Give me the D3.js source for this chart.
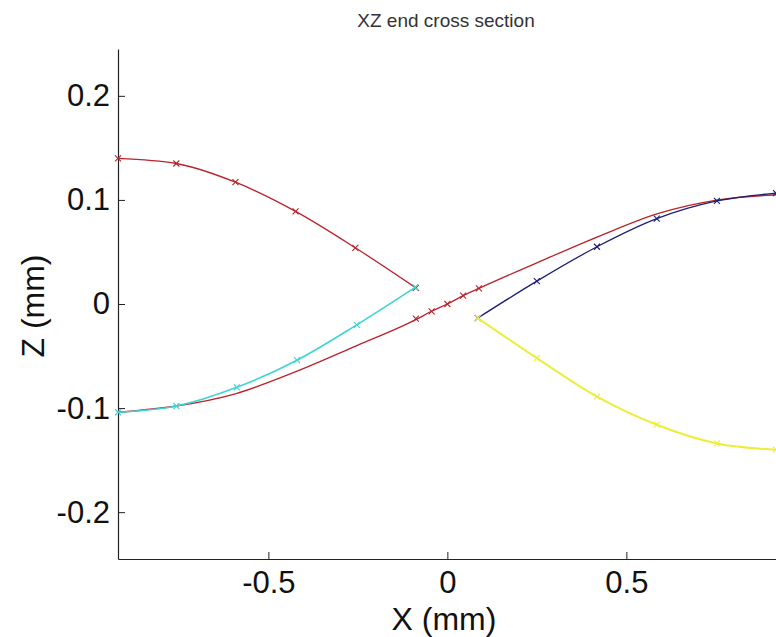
<!DOCTYPE html>
<html>
<head>
<meta charset="utf-8">
<script src="https://cdn.jsdelivr.net/npm/d3@7"></script>
<style>
  body { margin: 0; background: #fff; }
  svg { display: block; font-family: "Liberation Sans", Arial, sans-serif; }
</style>
</head>
<body>
<script>
// Tick values for both axes
var xTicks = [-0.5, 0, 0.5]
var zTicks = [-0.2, -0.1, 0, 0.1, 0.2]

// Upper red branch (left side)
var redTopX = [-0.92, -0.757, -0.592, -0.424, -0.257, -0.088]
var redTopZ = [0.140, 0.135, 0.117, 0.089, 0.054, 0.0155]

// Middle red curve across the whole section
var redMidX = [-0.92, -0.757, -0.59, -0.43, -0.253, -0.088, -0.044, 0, 0.044, 0.088, 0.253, 0.43, 0.59, 0.757, 0.92]
var redMidZ = [-0.104, -0.098, -0.086, -0.066, -0.040, -0.015, -0.007, 0, 0.008, 0.015, 0.040, 0.066, 0.087, 0.100, 0.105]
// Only the points around the centre carry markers
var redMidMarkX = [-0.088, -0.044, 0, 0.044, 0.088]
var redMidMarkZ = [-0.014, -0.007, 0, 0.008, 0.015]

// Cyan branch (left, below)
var cyanX = [-0.92, -0.757, -0.588, -0.42, -0.253, -0.09]
var cyanZ = [-0.104, -0.098, -0.080, -0.054, -0.020, 0.016]

// Blue branch (right, above)
var blueX = [0.085, 0.25, 0.418, 0.585, 0.753, 0.918]
var blueZ = [-0.0135, 0.022, 0.055, 0.082, 0.099, 0.1065]

// Yellow branch (right, below)
var yellowX = [0.085, 0.25, 0.418, 0.585, 0.753, 0.918]
var yellowZ = [-0.0135, -0.052, -0.089, -0.116, -0.134, -0.140]

window.onload = function() {
  var width = 776,
      height = 637;
  var margin = {top: 49, left: 118, bottom: 78};

  var svg = d3.select("body")
              .append("svg")
              .attr("width", width)
              .attr("height", height);

  var x = d3.scaleLinear()
            .domain([-0.92, 0.92])
            .range([margin.left, margin.left + 1.84 * 358]);
  var z = d3.scaleLinear()
            .domain([-0.245, 0.245])
            .range([height - margin.bottom, margin.top]);

  var fmt = function(d){ return d3.format("")(d).replace("\u2212", "-"); };

  // Axes, ticks pointing inwards like matlab
  var xAxis = svg.append("g")
                 .attr("transform", "translate(0," + z.range()[0] + ")")
                 .call(d3.axisBottom(x).tickValues(xTicks).tickFormat(fmt)
                         .tickSizeInner(-7).tickSizeOuter(0).tickPadding(12));
  var zAxis = svg.append("g")
                 .attr("transform", "translate(" + margin.left + ",0)")
                 .call(d3.axisLeft(z).tickValues(zTicks).tickFormat(fmt)
                         .tickSizeInner(-7).tickSizeOuter(0).tickPadding(8));

  [xAxis, zAxis].forEach(function(a){
    a.select(".domain").attr("stroke", "#222").attr("stroke-width", 1.2);
    a.selectAll(".tick line").attr("stroke", "#222");
    a.selectAll(".tick text")
     .attr("fill", "#111")
     .style("font-size", "31px")
     .style("font-family", "'Liberation Sans', Arial, sans-serif");
  });

  // Axis labels and title
  svg.append("text")
     .attr("x", 444)
     .attr("y", 630)
     .attr("text-anchor", "middle")
     .style("font-size", "32px")
     .attr("fill", "#111")
     .text("X (mm)");

  svg.append("text")
     .attr("transform", "translate(44," + 306 + ") rotate(-90)")
     .attr("text-anchor", "middle")
     .style("font-size", "32px")
     .attr("fill", "#111")
     .text("Z (mm)");

  svg.append("text")
     .attr("x", 446)
     .attr("y", 27)
     .attr("text-anchor", "middle")
     .style("font-size", "19px")
     .attr("fill", "#333")
     .text("XZ end cross section");

  var line = d3.line()
               .x(function(d){ return x(d[0]); })
               .y(function(d){ return z(d[1]); })
               .curve(d3.curveMonotoneX);

  function zip(xs, zs){
    return xs.map(function(v, i){ return [v, zs[i]]; });
  }

  var series = [
    {pts: zip(redMidX, redMidZ), marks: zip(redMidMarkX, redMidMarkZ), color: "#b8242a", width: 1.3},
    {pts: zip(redTopX, redTopZ), marks: zip(redTopX, redTopZ), color: "#b8242a", width: 1.3},
    {pts: zip(cyanX, cyanZ), marks: zip(cyanX, cyanZ), color: "#3fd4d4", width: 1.6},
    {pts: zip(blueX, blueZ), marks: zip(blueX, blueZ), color: "#1e1e78", width: 1.3},
    {pts: zip(yellowX, yellowZ), marks: zip(yellowX, yellowZ), color: "#eded3c", width: 2}
  ];

  var plot = svg.append("g").attr("class", "curves");

  series.forEach(function(s){
    plot.append("path")
        .datum(s.pts)
        .attr("d", line)
        .attr("fill", "none")
        .attr("stroke", s.color)
        .attr("stroke-width", s.width);

    // 'x' markers
    plot.selectAll(null)
        .data(s.marks)
        .enter()
        .append("path")
        .attr("d", function(d){
          var cx = x(d[0]), cy = z(d[1]), r = 3;
          return "M" + (cx - r) + "," + (cy - r) + "L" + (cx + r) + "," + (cy + r) +
                 "M" + (cx - r) + "," + (cy + r) + "L" + (cx + r) + "," + (cy - r);
        })
        .attr("stroke", s.color)
        .attr("stroke-width", 1.1)
        .attr("fill", "none");
  });
};
</script>
</body>
</html>
